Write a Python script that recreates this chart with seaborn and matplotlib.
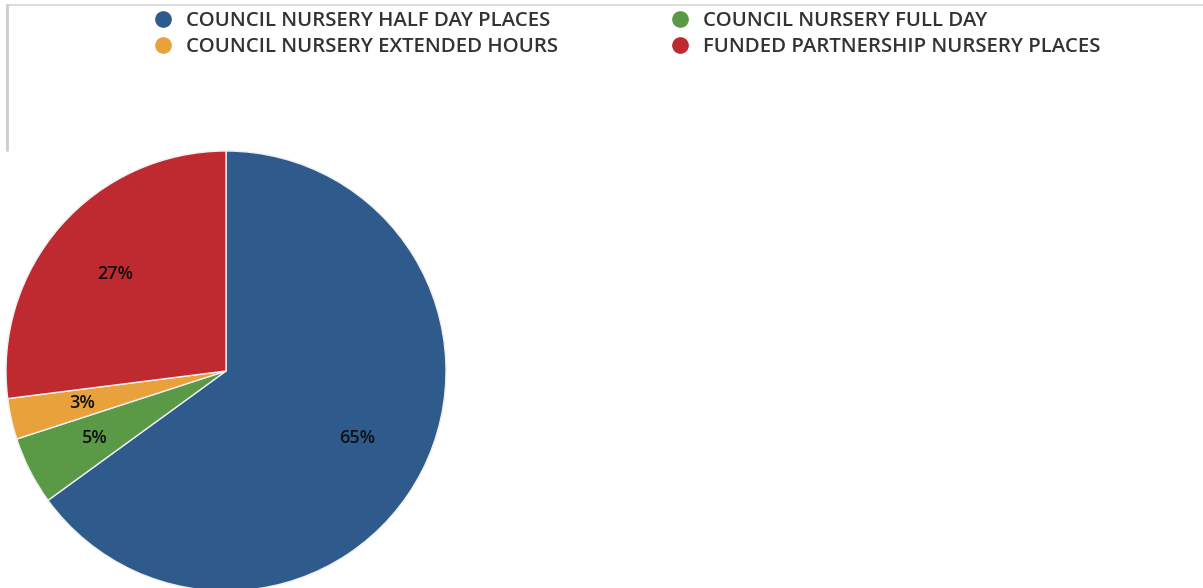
import matplotlib
matplotlib.use("Agg")
import matplotlib.pyplot as plt
from matplotlib.lines import Line2D
import seaborn as sns

categories = ["COUNCIL NURSERY HALF DAY PLACES", "COUNCIL NURSERY FULL DAY",
              "COUNCIL NURSERY EXTENDED HOURS", "FUNDED PARTNERSHIP NURSERY PLACES"]
values = [65, 5, 3, 27]
colors = ["#2E5A8C", "#5A9A46", "#E9A23B", "#BE2A30"]

sns.set_theme(style="white")
plt.rcParams['font.family'] = ['Open Sans', 'DejaVu Sans']

W, H = 1203, 588
fig = plt.figure(figsize=(W / 100, H / 100), dpi=100)
cx, cy, r = 226, 371, 220
ax = fig.add_axes([(cx - r) / W, (H - cy - r) / H, 2 * r / W, 2 * r / H])
wedges, texts, autotexts = ax.pie(
    values, colors=colors, startangle=90, counterclock=False,
    autopct='%d%%', pctdistance=0.67,
    wedgeprops=dict(edgecolor='#f0f0f0', linewidth=1),
    textprops=dict(fontsize=13, color='#111111', fontweight='semibold'))
ax.set_aspect('equal')
ax.set_xlim(-1, 1)
ax.set_ylim(-1, 1)
ax.axis('off')

# border lines
fig.add_artist(Line2D([7 / W, 1], [1 - 5 / H, 1 - 5 / H], color='#dddddd', lw=1.5, transform=fig.transFigure))
fig.add_artist(Line2D([7 / W, 7 / W], [1 - 5 / H, 1 - 150 / H], color='#cccccc', lw=2, transform=fig.transFigure))

order = [0, 2, 1, 3]
handles = [Line2D([], [], marker='o', linestyle='none', markersize=11,
                  markerfacecolor=colors[i], markeredgecolor=colors[i]) for i in order]
labels = [categories[i] for i in order]
leg = fig.legend(handles, labels, ncol=2, loc='upper left',
                 bbox_to_anchor=(126 / W, 1 + 5 / H), frameon=False,
                 prop=dict(size=14.7, weight='semibold'), labelcolor='#333333',
                 handletextpad=0.12, columnspacing=5.0, labelspacing=0.28, borderpad=0.3)

fig.savefig("out.png", dpi=100)
